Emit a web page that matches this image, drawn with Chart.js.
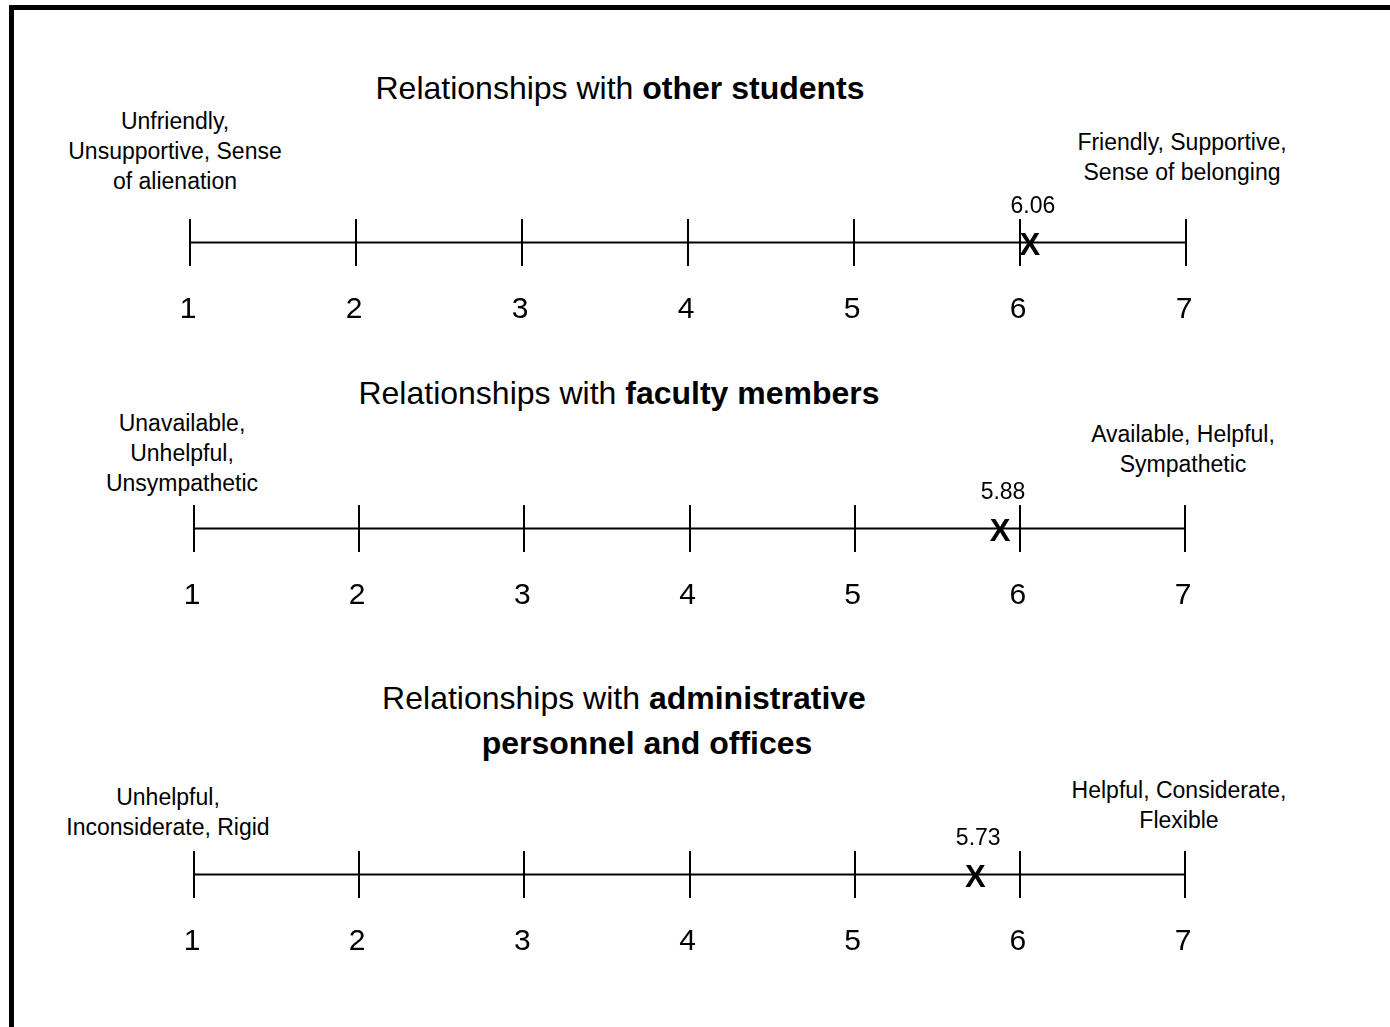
<!DOCTYPE html>
<html>
<head>
<meta charset="utf-8">
<script src="https://cdn.jsdelivr.net/npm/chart.js@4/dist/chart.umd.min.js"></script>
<style>
  body { margin: 0; background: #fff; font-family: "Liberation Sans", Arial, sans-serif; }
  #page { position: relative; width: 1390px; height: 1027px; overflow: hidden; background: #fff; }
  #frame { position: absolute; left: 9px; top: 5px; width: 1500px; height: 1200px; border-left: 5px solid #000; border-top: 5px solid #000; }
  .title { position: absolute; width: 800px; text-align: center; font-size: 32px; line-height: 45px; color: #000; }
  .anchor { position: absolute; width: 320px; text-align: center; font-size: 23px; line-height: 30px; color: #000; }
  canvas { position: absolute; left: 0; }
</style>
</head>
<body>
<div id="page">
  <div id="frame"></div>

  <div class="title" style="left:220px; top:66px;">Relationships with <b>other students</b></div>
  <div class="title" style="left:219px; top:371px;">Relationships with <b>faculty members</b></div>
  <div class="title" style="left:224px; top:676px;">Relationships with <b>administrative</b></div>
  <div class="title" style="left:247px; top:721px;"><b>personnel and offices</b></div>

  <div class="anchor" style="left:15px; top:106px;">Unfriendly,<br>Unsupportive, Sense<br>of alienation</div>
  <div class="anchor" style="left:1022px; top:127px;">Friendly, Supportive,<br>Sense of belonging</div>

  <div class="anchor" style="left:22px; top:408px;">Unavailable,<br>Unhelpful,<br>Unsympathetic</div>
  <div class="anchor" style="left:1023px; top:419px;">Available, Helpful,<br>Sympathetic</div>

  <div class="anchor" style="left:8px; top:782px;">Unhelpful,<br>Inconsiderate, Rigid</div>
  <div class="anchor" style="left:1019px; top:775px;">Helpful, Considerate,<br>Flexible</div>

  <canvas id="scale1" width="1390" height="190" style="top:149px;"></canvas>
  <canvas id="scale2" width="1390" height="190" style="top:435px;"></canvas>
  <canvas id="scale3" width="1390" height="190" style="top:781px;"></canvas>
</div>

<script>
// Rating scale (1..7) and mean ratings for each relationship
const scalePoints = [1, 2, 3, 4, 5, 6, 7];
const groups = ['other students', 'faculty members', 'administrative personnel and offices'];
const meanRatings = [6.06, 5.88, 5.73];

// left / right pixel padding of each scale (chart area edges)
const padLeft = [190, 194, 194];
const padRight = [1390 - 1186, 1390 - 1185, 1390 - 1185];

// Draws the bold "X" marker and the mean value above it
const meanMarker = {
    id: 'meanMarker',
    afterDatasetsDraw(chart) {
        const ctx = chart.ctx;
        const meta = chart.getDatasetMeta(1);
        meta.data.forEach((pt, i) => {
            const value = chart.data.datasets[1].data[i].x;
            const px = chart.scales.x.getPixelForValue(value);
            const py = chart.scales.y.getPixelForValue(0);
            ctx.save();
            ctx.fillStyle = '#000';
            ctx.textAlign = 'center';
            ctx.textBaseline = 'middle';
            ctx.font = 'bold 31px "Liberation Sans", Arial, sans-serif';
            ctx.fillText('X', px, py + 4);
            ctx.font = '23px "Liberation Sans", Arial, sans-serif';
            ctx.fillText(value.toFixed(2), px + 3, py - 36);
            ctx.restore();
        });
    }
};

function drawScale(canvasId, idx) {
    const ctx = document.getElementById(canvasId).getContext('2d');

    return new Chart(ctx, {
        type: 'scatter',
        data: {
            datasets: [{
                // the horizontal scale line, from first to last scale point
                type: 'line',
                data: [
                    { x: scalePoints[0], y: 0 },
                    { x: scalePoints[scalePoints.length - 1], y: 0 }
                ],
                borderColor: '#000',
                borderWidth: 2,
                pointRadius: 0
            }, {
                label: groups[idx],
                data: [{ x: meanRatings[idx], y: 0 }],
                pointRadius: 0
            }]
        },
        options: {
            responsive: false,
            animation: false,
            devicePixelRatio: 1,
            layout: { padding: { left: padLeft[idx], right: padRight[idx], top: 70, bottom: 0 } },
            plugins: { legend: { display: false }, tooltip: { enabled: false } },
            scales: {
                x: {
                    type: 'linear',
                    min: scalePoints[0],
                    max: scalePoints[scalePoints.length - 1],
                    afterBuildTicks: (axis) => { axis.ticks = scalePoints.map(v => ({ value: v })); },
                    afterFit: (axis) => { axis.height = 73; },
                    grid: { color: '#000', lineWidth: 2, drawTicks: false },
                    border: { display: false },
                    ticks: {
                        color: '#000',
                        padding: 26,
                        labelOffset: -2,
                        font: { family: '"Liberation Sans", Arial, sans-serif', size: 30 }
                    }
                },
                y: { min: -1, max: 1, display: false }
            }
        },
        plugins: [meanMarker]
    });
}

drawScale('scale1', 0);
drawScale('scale2', 1);
drawScale('scale3', 2);
</script>
</body>
</html>
